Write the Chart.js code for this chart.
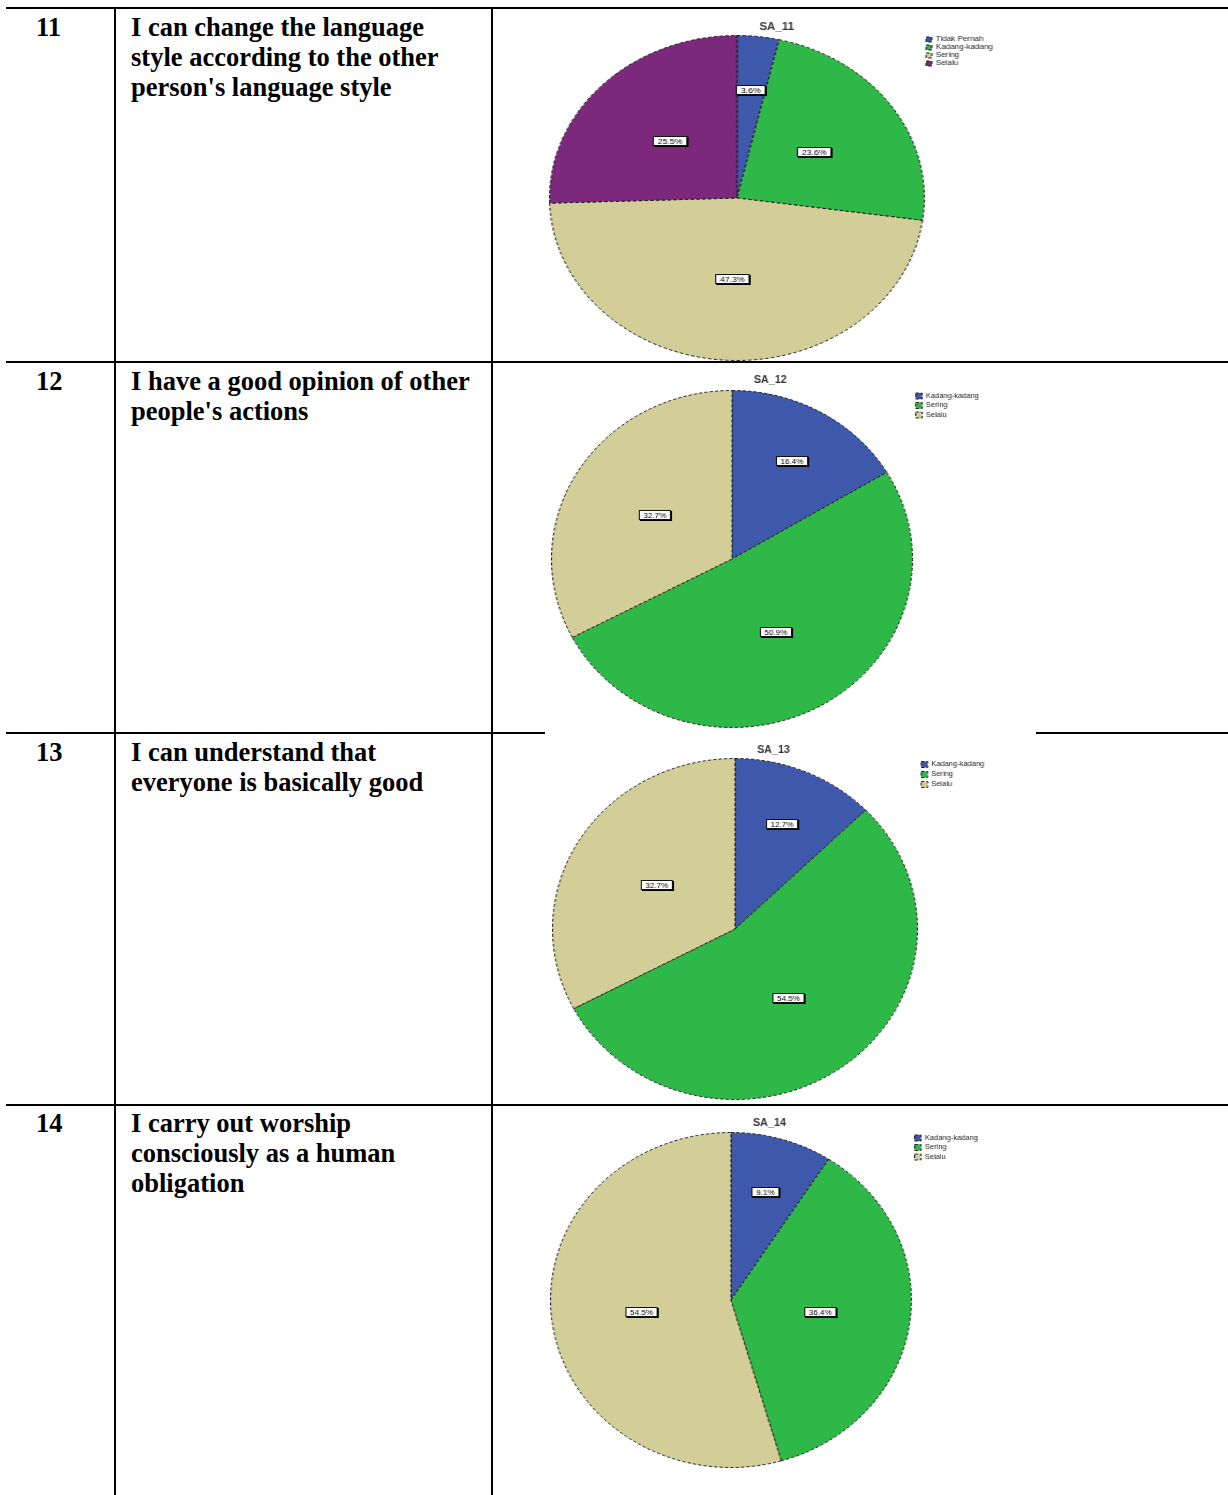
<!DOCTYPE html>
<html>
<head>
<meta charset="utf-8">
<script src="https://cdn.jsdelivr.net/npm/chart.js@4.4.1/dist/chart.umd.min.js"></script>
<style>
  html, body { margin: 0; padding: 0; background: #fff; }
  body { width: 1228px; height: 1495px; position: relative; overflow: hidden; }
  .hl, .vl { position: absolute; background: #000; }
  .num, .stmt {
    position: absolute;
    font-family: "Liberation Serif", "Times New Roman", serif;
    font-weight: bold;
    font-size: 26.5px;
    line-height: 30px;
    color: #000;
    white-space: nowrap;
  }
  canvas { position: absolute; transform-origin: 0 0; }
</style>
</head>
<body>
<div class="hl" style="left:6px;top:7px;width:1222px;height:2px"></div>
<div class="hl" style="left:6px;top:361px;width:1222px;height:2px"></div>
<div class="hl" style="left:6px;top:732px;width:539px;height:2px"></div>
<div class="hl" style="left:1036px;top:732px;width:192px;height:2px"></div>
<div class="hl" style="left:6px;top:1104px;width:1222px;height:2px"></div>
<div class="vl" style="left:114px;top:7px;width:2px;height:1488px"></div>
<div class="vl" style="left:491px;top:7px;width:2px;height:1488px"></div>

<div id="rows"></div>
<canvas id="sa11" width="410" height="342"></canvas>
<canvas id="sa12" width="446" height="356"></canvas>
<canvas id="sa13" width="454" height="358"></canvas>
<canvas id="sa14" width="446" height="353"></canvas>

<script>
// table text
const itemNumbers = ['11', '12', '13', '14'];
const statements = [
  ['I can change the language', 'style according to the other', "person's language style"],
  ['I have a good opinion of other', "people's actions"],
  ['I can understand that', 'everyone is basically good'],
  ['I carry out worship', 'consciously as a human', 'obligation']
];

// pie data (percent)
const chartTitles = ['SA_11', 'SA_12', 'SA_13', 'SA_14'];
const labels4 = ['Tidak Pernah', 'Kadang-kadang', 'Sering', 'Selalu'];
const labels3 = ['Kadang-kadang', 'Sering', 'Selalu'];
const sa11 = [3.6, 23.6, 47.3, 25.5];
const sa12 = [16.4, 50.9, 32.7];
const sa13 = [12.7, 54.5, 32.7];
const sa14 = [9.1, 36.4, 54.5];
const sliceColors = ['#3E58AC', '#2EB848', '#D3CE97', '#7C287D'];

const rowTops = [12, 366, 737, 1108];
const rowsEl = document.getElementById('rows');
itemNumbers.forEach((n, i) => {
  const num = document.createElement('div');
  num.className = 'num';
  num.style.left = '36px';
  num.style.top = rowTops[i] + 'px';
  num.textContent = n;
  rowsEl.appendChild(num);
  const st = document.createElement('div');
  st.className = 'stmt';
  st.style.left = '131px';
  st.style.top = rowTops[i] + 'px';
  st.innerHTML = statements[i].join('<br>');
  rowsEl.appendChild(st);
});

const FONT = '"Liberation Sans", Arial, sans-serif';
Chart.defaults.font.family = FONT;
const LEGEND_FONT = 7;

// white percentage boxes like the SPSS output
const pctLabels = {
  id: 'pctLabels',
  afterDatasetsDraw(chart) {
    const ctx = chart.ctx;
    const meta = chart.getDatasetMeta(0);
    const vals = chart.data.datasets[0].data;
    ctx.save();
    ctx.font = '7.5px ' + FONT;
    ctx.textAlign = 'center';
    ctx.textBaseline = 'middle';
    meta.data.forEach((arc, i) => {
      const p = arc.getProps(['x', 'y', 'startAngle', 'endAngle', 'outerRadius'], true);
      const mid = (p.startAngle + p.endAngle) / 2;
      const f = vals[i] < 20 ? 0.67 : 0.5;
      const x = Math.round(p.x + Math.cos(mid) * p.outerRadius * f);
      const y = Math.round(p.y + Math.sin(mid) * p.outerRadius * f);
      const txt = vals[i].toFixed(1) + '%';
      const w = Math.round(ctx.measureText(txt).width + 9);
      const h = 10;
      ctx.fillStyle = '#000';
      ctx.fillRect(x - w / 2 + 1, y - h / 2 + 1, w, h);
      ctx.fillStyle = '#fff';
      ctx.fillRect(x - w / 2, y - h / 2, w, h);
      ctx.strokeStyle = '#111';
      ctx.lineWidth = 1;
      ctx.strokeRect(x - w / 2 + 0.5, y - h / 2 + 0.5, w - 1, h - 1);
      ctx.fillStyle = '#000';
      ctx.fillText(txt, x, y + 0.5);
    });
    ctx.restore();
  }
};

// width Chart.js will give a vertical legend (labels.padding + item + 10)
function legendWidth(labels, box, pad) {
  const c = document.createElement('canvas').getContext('2d');
  c.font = LEGEND_FONT + 'px ' + FONT;
  const maxText = Math.max(...labels.map(t => c.measureText(t).width));
  return pad + box + LEGEND_FONT / 2 + maxText + 10;
}

function makePie(id, title, labels, values, pos) {
  const canvas = document.getElementById(id);
  canvas.style.left = pos.left + 'px';
  canvas.style.top = pos.top + 'px';
  canvas.style.transform = 'scaleX(' + pos.sx + ')';
  const lw = legendWidth(labels, pos.box, pos.legendPad);
  const padRight = Math.max(0, canvas.width - 2 * pos.r - lw);
  return new Chart(canvas, {
    type: 'pie',
    data: {
      labels: labels,
      datasets: [{
        data: values,
        backgroundColor: sliceColors.slice(0, values.length),
        borderColor: '#1a1a1a',
        borderWidth: 1,
        borderDash: [3, 2]
      }]
    },
    options: {
      responsive: false,
      animation: false,
      devicePixelRatio: 1,
      layout: { padding: { left: 0, top: 0, bottom: 2, right: padRight } },
      plugins: {
        title: {
          display: true,
          text: title,
          color: '#333',
          font: { size: 10, weight: 'bold' },
          padding: { top: 0, bottom: pos.titleGap }
        },
        legend: {
          position: 'right',
          align: 'start',
          fullSize: false,
          labels: {
            color: '#222',
            font: { size: LEGEND_FONT },
            boxWidth: pos.box,
            boxHeight: pos.box,
            padding: pos.legendPad
          }
        },
        tooltip: { enabled: false }
      }
    },
    plugins: [pctLabels]
  });
}

makePie('sa11', chartTitles[0], labels4, sa11,
  { left: 549, top: 21, sx: 1.153, r: 163, titleGap: 2, box: 5, legendPad: 1 });
makePie('sa12', chartTitles[1], labels3, sa12,
  { left: 551, top: 374, sx: 1.071, r: 169, titleGap: 4, box: 6, legendPad: 2.5 });
makePie('sa13', chartTitles[2], labels3, sa13,
  { left: 552, top: 744, sx: 1.070, r: 171, titleGap: 2, box: 6, legendPad: 3 });
makePie('sa14', chartTitles[3], labels3, sa14,
  { left: 550, top: 1117, sx: 1.077, r: 168, titleGap: 3, box: 6, legendPad: 2.5 });
</script>
</body>
</html>
